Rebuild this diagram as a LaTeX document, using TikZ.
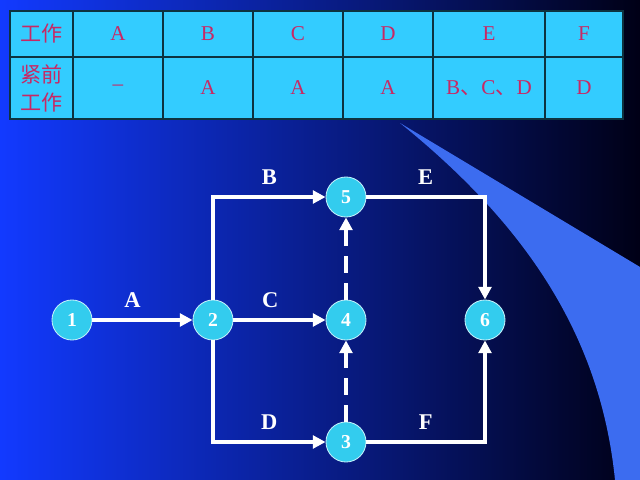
\documentclass[tikz,border=0pt]{standalone}
\usepackage{fontspec}
\setmainfont{Liberation Serif}
\newfontfamily\cjk{Noto Sans CJK SC}
\usetikzlibrary{arrows.meta}

\definecolor{bgL}{RGB}{18,58,255}
\definecolor{bgM}{RGB}{10,38,180}
\definecolor{bgR}{RGB}{0,0,22}
\definecolor{swoosh}{RGB}{60,108,240}
\definecolor{evfill}{RGB}{51,204,238}
\definecolor{cellfill}{RGB}{51,204,255}
\definecolor{celltext}{RGB}{200,40,100}

\begin{document}
\begin{tikzpicture}[x=0.025cm, y=-0.025cm,
		ev/.style = {circle, draw=white!70!evfill, fill=evfill, line width=0.6pt, minimum size=1cm, inner sep=0pt, text=white, font=\fontsize{14}{16}\selectfont\bfseries},
		job/.style = {-{Triangle[length=9pt,width=9pt]}, white, line width=2.8pt},
		dum/.style = {job, dash pattern=on 12pt off 7pt},
		lbl/.style = {above=4pt, text=white, font=\fontsize{16}{18}\selectfont\bfseries},
		cell/.style = {text=celltext, font=\fontsize{15}{20}\selectfont},
		head/.style = {cell, align=center, font=\cjk\fontsize{15}{20}\selectfont},
		grid/.style = {line width=0.8pt, black!75!cellfill}
		]
		
		%Background
		\shade[left color=bgL, middle color=bgM, right color=bgR] (0,0) rectangle (640,480);
		\fill[swoosh] (400,123) -- (640,267) -- (640,480) -- (615,480) .. controls (600,330) and (520,220) .. (400,123);
		\useasboundingbox (0,0) rectangle (640,480);
		
		%Table
		\fill[cellfill] (10,11) rectangle (623,119);
		\draw[grid] (10,11) rectangle (623,119);
		\draw[grid] (10,57) -- (623,57);
		\foreach \x in {73,163,253,343,433,545}
			\draw[grid] (\x,11) -- (\x,119);
		
		\node[head]	(h0)	at	(41.5, 34)	{工作};
		\node[cell]	(hA)	at	(118, 34)	{A};
		\node[cell]	(hB)	at	(208, 34)	{B};
		\node[cell]	(hC)	at	(298, 34)	{C};
		\node[cell]	(hD)	at	(388, 34)	{D};
		\node[cell]	(hE)	at	(489, 34)	{E};
		\node[cell]	(hF)	at	(584, 34)	{F};
		\node[head]	(p0)	at	(41.5, 88)	{紧前\\工作};
		\node[cell]	(pA)	at	(118, 88)	{--};
		\node[cell]	(pB)	at	(208, 88)	{A};
		\node[cell]	(pC)	at	(298, 88)	{A};
		\node[cell]	(pD)	at	(388, 88)	{A};
		\node[cell]	(pE)	at	(489, 88)	{B{\cjk 、}C{\cjk 、}D};
		\node[cell]	(pF)	at	(584, 88)	{D};
		
		%Nodes
		\node[ev]	(n1)	at	(72, 320)	{1};
		\node[ev]	(n2)	at	(213, 320)	{2};
		\node[ev]	(n4)	at	(346, 320)	{4};
		\node[ev]	(n5)	at	(346, 197)	{5};
		\node[ev]	(n3)	at	(346, 442)	{3};
		\node[ev]	(n6)	at	(485, 320)	{6};
		
		%Lines
		\draw[job]	(n1)	--	node[lbl, pos=0.4]	(lA)	{A}	(n2);
		\draw[job]	(n2)	|-	node[lbl, pos=0.75]	(lB)	{B}	(n5);
		\draw[job]	(n2)	--	node[lbl, pos=0.4]	(lC)	{C}	(n4);
		\draw[job]	(n2)	|-	node[lbl, pos=0.75]	(lD)	{D}	(n3);
		\draw[job]	(n5)	-|	node[lbl, pos=0.25]	(lE)	{E}	(n6);
		\draw[job]	(n3)	-|	node[lbl, pos=0.25]	(lF)	{F}	(n6);
		\draw[dum]	(n4)	--	(n5);
		\draw[dum]	(n3)	--	(n4);
	\end{tikzpicture}
\end{document}
